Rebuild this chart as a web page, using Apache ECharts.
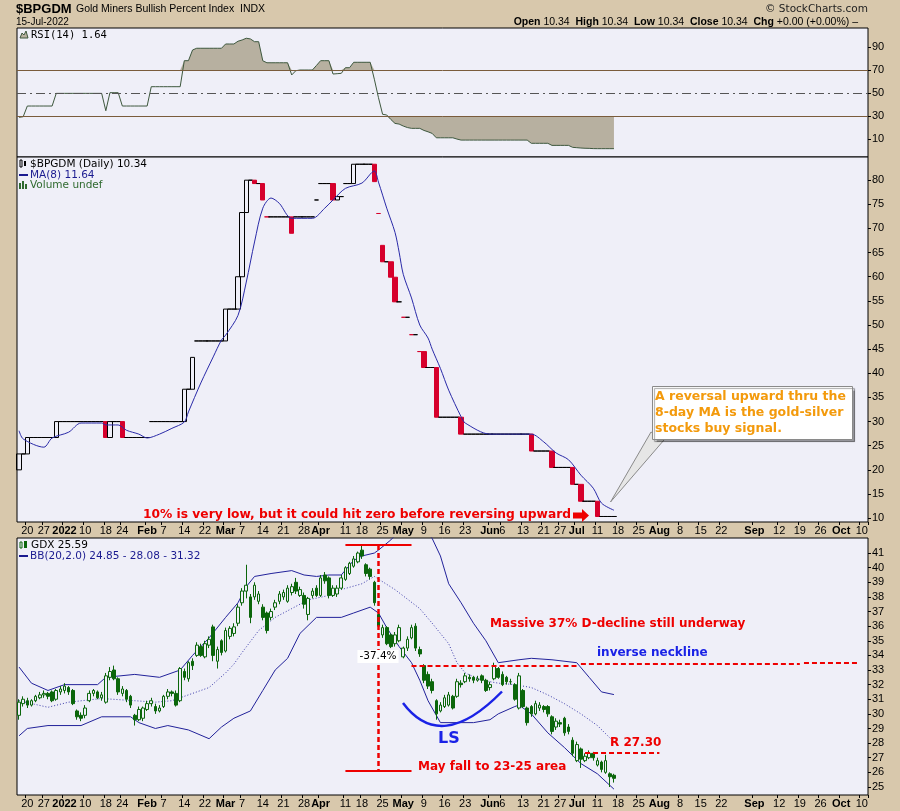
<!DOCTYPE html>
<html><head><meta charset="utf-8">
<script src="https://cdn.jsdelivr.net/npm/echarts@6/dist/echarts.min.js"></script>
<style>html,body{margin:0;padding:0;background:#D8C8AC;}#c{width:900px;height:811px;}</style>
</head><body><div id="c"></div>
<script>
// ---------- calendar (trading days) ----------
const startDate = '2021-12-16', endDate = '2022-10-11';
const holidays = ['2021-12-24','2022-01-17','2022-02-21','2022-04-15','2022-05-30','2022-06-20','2022-07-04','2022-09-05'];
function tradingDays(s, e, hol) {
  const out = [], h = new Set(hol);
  let d = new Date(s + 'T00:00:00Z'); const end = new Date(e + 'T00:00:00Z');
  while (d <= end) { const wd = d.getUTCDay(), k = d.toISOString().slice(0, 10);
    if (wd !== 0 && wd !== 6 && !h.has(k)) out.push(k); d = new Date(d.getTime() + 86400000); }
  return out;
}
const days = tradingDays(startDate, endDate, holidays);

// ---------- x tick labels ----------
const tickDates = ['2021-12-20','2021-12-27','2022-01-03','2022-01-10','2022-01-18','2022-01-24','2022-02-01','2022-02-07','2022-02-14','2022-02-22','2022-03-01','2022-03-07','2022-03-14','2022-03-21','2022-03-28','2022-04-01','2022-04-11','2022-04-18','2022-04-25','2022-05-02','2022-05-09','2022-05-16','2022-05-23','2022-06-01','2022-06-06','2022-06-13','2022-06-21','2022-06-27','2022-07-01','2022-07-11','2022-07-18','2022-07-25','2022-08-01','2022-08-08','2022-08-15','2022-08-22','2022-09-01','2022-09-12','2022-09-19','2022-09-26','2022-10-03','2022-10-10'];
const tickTexts = ['20','27','2022','10','18','24','Feb','7','14','22','Mar','7','14','21','28','Apr','11','18','25','May','9','16','23','Jun','6','13','21','27','Jul','11','18','25','Aug','8','15','22','Sep','12','19','26','Oct','10'];
const boldTicks = ['2022','Feb','Mar','Apr','May','Jun','Jul','Aug','Sep','Oct'];

// ---------- y tick values ----------
const rsiTicks = [10, 30, 50, 70, 90];
const bpTicks = [10, 15, 20, 25, 30, 35, 40, 45, 50, 55, 60, 65, 70, 75, 80];
const gdxTicks = [25, 26, 27, 28, 29, 30, 31, 32, 33, 34, 35, 36, 37, 38, 39, 40, 41];

// ---------- RSI(14) of $BPGDM ----------
const rsi = [
28.9,29.4,38.7,38.7,38.7,38.7,38.7,38.7,38.7,49.7,
49.7,49.7,49.7,49.7,49.7,49.7,49.7,49.7,49.7,49.7,
49.7,34.6,50.3,50.3,50.3,38.7,38.7,38.7,38.7,38.7,
38.7,38.7,55.5,55.5,55.5,55.5,55.5,55.5,55.5,55.5,
78.1,78.1,87.4,88.9,88.9,88.9,88.9,88.9,88.9,88.9,
92.6,92.6,92.6,95.0,96.1,97.6,97.0,94.6,94.6,78.0,
76.3,76.3,76.3,76.3,76.3,76.3,65.7,69.4,70.0,70.0,
70.0,70.0,74.0,78.1,78.1,78.1,66.5,66.8,67.1,72.0,
72.0,76.7,76.7,76.7,76.7,76.7,62.0,46.0,31.5,30.9,
27.0,23.6,23.0,21.3,20.0,19.3,19.3,19.3,17.5,16.3,
14.9,11.1,11.1,11.1,11.1,11.1,10.0,9.1,9.1,9.1,
9.1,9.1,9.1,9.1,9.1,9.1,9.1,9.1,9.1,9.1,
9.1,9.1,9.1,9.1,6.3,6.3,6.3,6.3,6.3,4.5,
4.5,4.5,4.5,4.5,2.8,2.5,2.2,2.0,1.9,1.7,
1.64,1.64,1.64,1.64,1.64];

// ---------- $BPGDM daily open / close ----------
const bpOpen = [
20,23.3,23.3,26.7,26.7,26.7,26.7,26.7,26.7,26.7,
30,30,30,30,30,30,30,30,30,30,
30,30,26.7,30,30,30,26.7,26.7,26.7,26.7,
26.7,26.7,30,30,30,30,30,30,30,30,
30,36.7,36.7,46.7,46.7,46.7,46.7,46.7,46.7,46.7,
46.7,53.3,53.3,53.3,60,73.3,80,80,79.3,79.3,
72.4,72.4,72.4,72.4,72.4,72.4,72.4,72.4,72.4,72.4,
72.4,72.4,75.9,79.3,79.3,79.3,79.3,75.9,76.6,79.3,
79.3,79.3,83.3,83.3,83.3,83.3,83.3,73.1,66.5,63.1,
63.1,59.9,54.8,51.6,51.6,48.0,48.0,44.5,44.5,41.2,
41.2,41.2,30.9,30.9,30.9,30.9,30.9,30.9,27.4,27.4,
27.4,27.4,27.4,27.4,27.4,27.4,27.4,27.4,27.4,27.4,
27.4,27.4,27.4,27.4,27.4,23.9,23.9,23.9,23.9,23.9,
20.5,20.5,20.5,20.5,20.5,17.0,17.0,13.5,13.5,13.5,
13.5,10.34,10.34,10.34,10.34];
const bpClose = [
23.3,23.3,26.7,26.7,26.7,26.7,26.7,26.7,26.7,30,
30,30,30,30,30,30,30,30,30,30,
30,26.7,30,30,30,26.7,26.7,26.7,26.7,26.7,
26.7,26.7,30,30,30,30,30,30,30,30,
36.7,36.7,43.3,46.7,46.7,46.7,46.7,46.7,46.7,46.7,
53.3,53.3,53.3,60,73.3,80,80,79.3,79.3,75.9,
72.4,72.4,72.4,72.4,72.4,72.4,69.0,72.4,72.4,72.4,
72.4,72.4,75.9,79.3,79.3,79.3,75.9,76.6,76.6,79.3,
79.3,83.3,83.3,83.3,83.3,83.3,79.7,73.1,63.1,63.1,
59.9,54.8,54.8,51.6,51.6,48.0,48.0,44.5,41.2,41.2,
41.2,30.9,30.9,30.9,30.9,30.9,30.9,27.4,27.4,27.4,
27.4,27.4,27.4,27.4,27.4,27.4,27.4,27.4,27.4,27.4,
27.4,27.4,27.4,27.4,23.9,23.9,23.9,23.9,23.9,20.5,
20.5,20.5,20.5,20.5,17.0,17.0,13.5,13.5,13.5,13.5,
10.34,10.34,10.34,10.34,10.34];

// MA(8) of $BPGDM, read at [trading-day index, value]
const bpMA8 = [[0,28.1],[1,26.4],[6,24.7],[8,26.6],[12,27.8],[15,29.7],[20,29.7],[21,29.3],[24,29.3],[26,28.2],[29,27.4],[31,26.6],[34,27.4],[37,28.6],[40,29.9],[41,32.0],[44,38.0],[47,43.4],[49,46.9],[50,47.9],[53,52.0],[55,58.9],[57,67.2],[59,74.2],[61,76.3],[63,75.2],[66,72.1],[71,72.1],[74,74.2],[76,75.9],[79,78.3],[83,79.4],[86,81.9],[87,79.6],[89,74.2],[91,69.2],[92,65.1],[93,60.5],[95,55.6],[97,50.0],[99,47.3],[100,45.0],[102,41.0],[104,36.5],[107,31.0],[108,29.7],[114,27.4],[124,27.4],[127,25.8],[130,23.5],[133,22.1],[136,18.9],[139,16.2],[141,13.1],[144,11.64]];

// ---------- GDX daily [open, close, low, high] ----------
const gdx = [
[29.9,30.8,29.6,31.0],[30.7,31.0,30.5,31.2],[30.9,30.6,30.4,31.1],[30.6,30.9,30.5,31.0],[30.9,31.2,30.8,31.3],
[31.1,31.3,31.0,31.5],[31.3,31.4,31.1,31.6],[31.4,31.2,31.0,31.5],[31.5,30.9,30.8,31.6],[31.0,31.6,30.9,31.7],
[31.5,31.7,31.3,31.9],[31.6,31.9,31.4,32.1],[31.8,31.5,31.3,31.9],[31.6,30.7,30.6,31.7],[30.2,29.8,29.6,30.3],
[29.9,29.7,29.5,30.1],[29.9,30.4,29.7,30.6],[30.9,31.4,30.8,31.6],[31.4,31.6,31.2,31.7],[31.5,31.1,31.0,31.6],
[31.1,31.3,30.9,31.5],[30.8,32.6,30.7,32.8],[32.5,32.9,32.3,33.2],[33.0,32.4,32.3,33.3],[32.4,31.5,31.3,32.5],
[31.4,31.7,31.2,31.9],[31.6,31.0,30.8,31.7],[31.2,30.6,30.4,31.3],[29.9,29.6,29.2,30.0],[29.6,30.3,29.5,30.5],
[29.7,30.4,29.5,30.5],[30.3,30.7,30.2,30.9],[30.7,30.9,30.5,31.1],[30.5,30.2,30.0,30.7],[30.2,30.4,30.1,30.6],
[30.5,31.2,30.4,31.3],[31.2,31.5,31.0,31.7],[31.5,31.4,31.2,31.6],[31.4,30.6,30.5,31.6],[30.9,33.1,30.8,33.2],
[32.9,32.5,32.3,33.1],[32.4,33.5,32.2,33.6],[33.6,33.3,33.0,33.8],[34.0,34.7,33.9,34.9],[34.6,34.0,33.9,34.8],
[33.9,34.8,33.8,35.0],[34.7,35.1,34.5,35.3],[35.95,34.0,33.6,36.1],[33.6,34.4,33.1,34.6],[35.0,34.2,34.0,35.1],
[34.3,35.7,34.2,35.9],[35.3,35.85,35.1,36.0],[35.5,35.95,35.3,36.2],[36.2,37.3,36.0,37.5],[37.6,38.4,37.4,38.6],
[38.4,38.8,37.9,40.2],[38.0,36.6,36.2,38.2],[38.0,38.8,37.8,39.0],[37.7,38.2,37.5,38.4],[37.3,36.6,36.4,37.5],
[36.9,35.7,35.5,37.0],[36.6,37.0,36.4,37.2],[37.3,37.6,37.1,37.8],[37.7,38.2,37.5,38.4],[38.0,38.3,37.8,38.5],
[37.7,38.6,37.6,38.8],[38.3,38.7,38.1,38.9],[39.0,38.4,38.2,39.3],[38.1,38.5,38.0,38.7],[38.1,37.5,37.2,38.3],
[36.8,37.9,36.4,38.0],[38.1,38.4,37.9,38.6],[38.6,38.1,38.0,38.8],[38.1,39.3,38.0,39.5],[39.5,39.1,38.9,39.7],
[39.3,38.1,37.9,39.4],[38.1,38.6,38.0,38.8],[38.2,38.6,38.0,38.8],[38.6,39.3,38.5,39.5],[39.2,40.0,39.1,40.1],
[39.6,40.3,39.5,40.4],[40.1,40.6,40.0,40.8],[40.4,41.0,40.3,41.1],[41.2,40.8,40.6,41.5],[40.2,39.6,39.4,40.3],
[39.9,39.4,39.2,40.0],[39.0,37.6,37.4,39.1],[36.8,36.0,35.8,36.9],[35.4,35.9,35.2,36.1],[35.9,34.8,34.7,36.0],
[35.4,34.6,34.5,35.5],[34.8,35.4,34.6,35.6],[35.0,35.9,34.9,36.1],[33.9,34.5,33.8,34.6],[34.5,35.1,34.3,35.3],
[35.2,35.9,35.1,36.1],[36.0,34.5,34.3,36.2],[34.4,34.1,33.9,34.6],[33.3,32.3,32.1,33.4],[32.7,31.9,31.7,32.9],
[32.2,31.6,31.4,32.4],[30.9,30.0,29.6,31.0],[30.2,30.6,30.1,30.8],[30.5,31.1,30.4,31.3],[30.6,31.3,30.5,31.5],
[31.2,30.4,30.3,31.3],[31.2,32.2,31.1,32.4],[32.1,32.0,31.8,32.3],[32.2,32.6,32.1,32.8],[32.5,32.4,32.2,32.7],
[32.5,32.3,32.1,32.6],[32.3,32.4,32.2,32.6],[32.6,32.3,32.1,32.7],[32.3,31.6,31.5,32.4],[31.8,32.0,31.6,32.2],
[32.4,33.3,32.3,33.5],[33.1,32.5,32.4,33.2],[32.7,32.0,31.9,32.9],[32.5,32.2,32.0,32.6],[32.2,32.2,32.0,32.4],
[32.0,31.0,30.9,32.1],[30.4,32.6,30.3,32.8],[31.6,30.5,30.4,31.7],[30.4,29.4,29.2,30.5],[30.5,30.0,29.8,30.6],
[30.0,30.7,29.9,30.9],[30.4,30.6,30.2,30.8],[30.5,30.3,30.1,30.6],[30.5,30.0,29.8,30.6],[29.8,28.8,28.6,29.9],
[29.1,29.5,28.9,29.7],[29.4,29.3,29.1,29.6],[29.7,28.7,28.5,29.8],[29.1,28.8,28.6,29.3],[28.2,27.3,27.1,28.4],
[26.8,27.9,26.7,28.1],[27.6,26.9,26.3,27.7],[26.8,27.1,26.7,27.3],[27.0,27.3,26.9,27.5],[27.3,27.0,26.8,27.4],
[26.5,26.8,26.4,27.0],[26.7,26.2,26.0,26.8],[26.0,26.8,25.9,27.2],[25.9,25.7,25.0,26.0],[25.8,25.59,25.3,25.9]];

// Bollinger Bands (20,2) of GDX, read at [trading-day index, value]
const bbUpper = [[0,33.2],[3,32.1],[7,31.6],[11,32.0],[19,32.0],[21,32.5],[28,32.7],[34,32.5],[39,33.0],[42,34.0],[46,35.2],[50,36.6],[53,37.6],[55,38.7],[57,39.4],[61,39.6],[66,39.8],[69,39.5],[72,39.4],[75,39.5],[78,39.5],[81,40.5],[83,40.8],[86,41.0],[87,41.2],[90,41.9],[92,42.5],[95,43.0],[98,42.6],[100,42.0],[102,40.8],[104,38.9],[107,37.6],[110,36.2],[113,35.0],[116,33.5],[121,33.7],[124,33.8],[129,33.7],[135,33.5],[138,32.5],[141,31.5],[144,31.32]];
const bbMiddle = [[0,30.9],[7,30.45],[12,30.8],[20,31.05],[28,30.9],[33,30.8],[37,30.9],[42,31.4],[46,31.8],[50,32.8],[52,33.4],[54,34.2],[58,35.7],[62,36.6],[66,37.2],[70,37.8],[75,38.1],[78,38.5],[83,38.9],[86,39.4],[91,38.5],[97,37.2],[100,36.2],[104,34.8],[106,33.5],[108,32.8],[112,32.3],[116,32.1],[120,32.0],[124,31.8],[128,31.3],[132,30.7],[136,30.0],[140,29.2],[144,28.08]];
const bbLower = [[0,28.5],[2,29.0],[7,29.2],[15,29.2],[20,29.8],[27,29.8],[29,29.4],[33,29.0],[36,29.2],[41,28.9],[46,28.3],[49,29.1],[52,29.7],[56,30.2],[59,31.6],[62,33.0],[65,33.8],[68,35.5],[72,36.6],[78,36.6],[81,36.9],[85,37.3],[87,36.9],[89,35.9],[92,34.6],[95,33.5],[97,32.3],[99,30.9],[102,29.4],[106,29.4],[110,29.4],[114,29.6],[116,30.0],[120,30.5],[121,30.6],[124,30.0],[128,28.7],[132,27.7],[136,26.6],[140,25.9],[144,24.85]];

// ---------- chart ----------
const BG = '#D8C8AC', PLOT = '#EFEFF8', RED = '#EE0000', BLUE = '#1A22E6', NAVY = '#22229A';
const chart = echarts.init(document.getElementById('c'), null, {renderer: 'canvas'});

const tickMap = {}; tickDates.forEach((d, i) => tickMap[d] = tickTexts[i]);
function xAx(g, showLabels) {
  return {type: 'category', gridIndex: g, data: days, boundaryGap: true,
    axisLine: {show: false},
    axisTick: {show: showLabels, interval: (i, v) => tickMap[v] !== undefined, length: 3, lineStyle: {color: '#000'}},
    axisLabel: {show: showLabels, interval: (i, v) => tickMap[v] !== undefined, margin: 3,
      fontFamily: 'Liberation Sans', fontSize: 11, color: '#000',
      formatter: v => { const t = tickMap[v]; if (t === undefined) return ''; return boldTicks.includes(t) ? '{b|' + t + '}' : t; },
      rich: {b: {fontWeight: 'bold', fontFamily: 'Liberation Sans', fontSize: 11, color: '#000'}}},
    splitLine: {show: false}};
}
function yAx(g, min, max, ticks) {
  return {type: 'value', gridIndex: g, position: 'right', min: min, max: max,
    splitLine: {show: false}, axisLine: {show: false},
    axisTick: {show: true, length: 3, customValues: ticks, lineStyle: {color: '#000'}},
    axisLabel: {customValues: ticks, margin: 4, fontFamily: 'Liberation Sans', fontSize: 11, color: '#000'}};
}
const gridBase = {left: 17, right: 32, show: true, backgroundColor: PLOT, borderColor: '#000', borderWidth: 1};

const txt = (x, y, text, font, fill, extra) => Object.assign({type: 'text', x: x, y: y, z: 100,
  style: Object.assign({text: text, font: font, fill: fill, textVerticalAlign: 'middle', verticalAlign: 'middle'}, (extra || {}))});

const option = {
  backgroundColor: BG,
  animation: false,
  grid: [
    Object.assign({top: 28, height: 129}, gridBase),
    Object.assign({top: 157, height: 365}, gridBase),
    Object.assign({top: 538, height: 257}, gridBase)
  ],
  xAxis: [xAx(0, false), xAx(1, true), xAx(2, true)],
  yAxis: [yAx(0, -5.6, 106.5, rsiTicks), yAx(1, 9.2, 84.8, bpTicks), yAx(2, 24.45, 42.03, gdxTicks)],
  series: [
    {type: 'line', xAxisIndex: 0, yAxisIndex: 0, data: rsi.map(v => Math.max(v, 70)), symbol: 'none',
      lineStyle: {width: 0, opacity: 0}, areaStyle: {origin: 70, color: '#B7B0A0', opacity: 1}, z: 1, silent: true},
    {type: 'line', xAxisIndex: 0, yAxisIndex: 0, data: rsi.map(v => Math.min(v, 30)), symbol: 'none',
      lineStyle: {width: 0, opacity: 0}, areaStyle: {origin: 30, color: '#B7B0A0', opacity: 1}, z: 1, silent: true},
    {type: 'line', xAxisIndex: 0, yAxisIndex: 0, data: rsi, symbol: 'none', z: 3,
      lineStyle: {color: '#3E583E', width: 1},
      markLine: {silent: true, symbol: 'none', label: {show: false},
        data: [{yAxis: 70, lineStyle: {color: '#7A5C3C', width: 1, type: 'solid'}},
               {yAxis: 30, lineStyle: {color: '#7A5C3C', width: 1, type: 'solid'}},
               {yAxis: 50, lineStyle: {color: '#555', width: 1, type: [9, 4, 2, 4]}}]}},
    {type: 'candlestick', xAxisIndex: 1, yAxisIndex: 1, barWidth: 4.8,
      data: bpOpen.map((o, i) => [o, bpClose[i], Math.min(o, bpClose[i]), Math.max(o, bpClose[i])]),
      itemStyle: {color: 'rgba(0,0,0,0)', color0: '#D6002C', borderColor: '#000', borderColor0: '#D6002C', borderWidth: 1}},
    {type: 'line', xAxisIndex: 1, yAxisIndex: 1, data: bpMA8, symbol: 'none', smooth: 0.3, z: 4,
      lineStyle: {color: '#2A2AA8', width: 1}},
    {type: 'line', xAxisIndex: 2, yAxisIndex: 2, data: bbUpper, symbol: 'none', lineStyle: {color: NAVY, width: 1}},
    {type: 'line', xAxisIndex: 2, yAxisIndex: 2, data: bbMiddle, symbol: 'none', lineStyle: {color: '#3A3AAA', width: 1, type: [1, 2]}},
    {type: 'line', xAxisIndex: 2, yAxisIndex: 2, data: bbLower, symbol: 'none', lineStyle: {color: NAVY, width: 1}},
    {type: 'candlestick', xAxisIndex: 2, yAxisIndex: 2, barWidth: '75%', data: gdx, z: 5,
      itemStyle: {color: PLOT, color0: '#0B660B', borderColor: '#0B660B', borderColor0: '#0B660B', borderWidth: 1},
      markLine: {silent: true, symbol: 'none', label: {show: false}, z: 6,
        data: [
          [{coord: [days[79], 41.55], lineStyle: {color: RED, width: 2, type: 'solid'}}, {coord: [days[95], 41.55]}],
          [{coord: [days[79], 26.14], lineStyle: {color: RED, width: 2, type: 'solid'}}, {coord: [days[95], 26.14]}],
          [{coord: [days[87], 41.55], lineStyle: {color: RED, width: 2.5, type: [5, 3]}}, {coord: [days[87], 26.14]}],
          [{coord: [days[95], 33.3], lineStyle: {color: RED, width: 2, type: [5, 3]}}, {coord: [days[135], 33.3]}],
          [{coord: [days[136], 33.4], lineStyle: {color: RED, width: 2, type: [5, 3]}}, {coord: [days[189], 33.4]}],
          [{coord: [days[190], 33.47], lineStyle: {color: RED, width: 2, type: [5, 3]}}, {coord: [days[203], 33.47]}],
          [{coord: [days[137], 27.35], lineStyle: {color: RED, width: 2, type: [5, 3]}}, {coord: [days[155], 27.35]}]
        ]}}
  ],
  graphic: [
    // header
    txt(16, 9.5, '$BPGDM', 'bold 13px "Liberation Sans"', '#000'),
    txt(76, 9.5, 'Gold Miners Bullish Percent Index  INDX', '10.5px "Liberation Sans"', '#000'),
    txt(16, 22, '15-Jul-2022', '10px "Liberation Sans"', '#000'),
    txt(868, 9, '\u00A9 StockCharts.com', '10.5px "DejaVu Sans"', '#222', {textAlign: 'right', align: 'right'}),
    {type: 'text', x: 858, y: 22, z: 100, style: {text: '{b|Open} 10.34  {b|High} 10.34  {b|Low} 10.34  {b|Close} 10.34  {b|Chg} +0.00 (+0.00%) \u2013',
      font: '10.5px "Liberation Sans"', fill: '#000', textAlign: 'right', align: 'right', textVerticalAlign: 'middle', verticalAlign: 'middle',
      rich: {b: {fontWeight: 'bold', fontFamily: 'Liberation Sans', fontSize: 10.5}}}},
    // RSI legend
    {type: 'polygon', z: 100, shape: {points: [[20, 38], [22, 33], [24, 35], [26, 31], [28, 38]]}, style: {fill: '#B7B0A0', stroke: '#3E583E', lineWidth: 1}},
    txt(31, 35, 'RSI(14) 1.64', '10.5px "DejaVu Sans Mono"', '#000'),
    // main legend
    {type: 'rect', z: 100, shape: {x: 20, y: 160, width: 2, height: 7}, style: {fill: 'none', stroke: '#000', lineWidth: 1}},
    {type: 'rect', z: 100, shape: {x: 24, y: 161, width: 2, height: 5}, style: {fill: '#000'}},
    txt(30, 164, '$BPGDM (Daily) 10.34', '10.5px "DejaVu Sans"', '#000'),
    {type: 'line', z: 100, shape: {x1: 19, y1: 175, x2: 28, y2: 175}, style: {stroke: '#1A1A90', lineWidth: 2}},
    txt(30, 175, 'MA(8) 11.64', '10.5px "DejaVu Sans"', '#1A1A90'),
    {type: 'rect', z: 100, shape: {x: 19, y: 183, width: 2, height: 6}, style: {fill: '#2F6A2F'}},
    {type: 'rect', z: 100, shape: {x: 22, y: 181, width: 2, height: 8}, style: {fill: '#2F6A2F'}},
    {type: 'rect', z: 100, shape: {x: 25, y: 184, width: 2, height: 5}, style: {fill: '#2F6A2F'}},
    txt(30, 185, 'Volume undef', '10.5px "DejaVu Sans"', '#2F6A2F'),
    // GDX legend
    {type: 'rect', z: 100, shape: {x: 20, y: 542, width: 2, height: 6}, style: {fill: 'none', stroke: '#0B660B', lineWidth: 1}},
    {type: 'rect', z: 100, shape: {x: 24, y: 541, width: 3, height: 7}, style: {fill: '#0B660B'}},
    txt(31, 545, 'GDX 25.59', '10.5px "DejaVu Sans"', '#000'),
    {type: 'line', z: 100, shape: {x1: 19, y1: 556, x2: 28, y2: 556}, style: {stroke: '#1A1A90', lineWidth: 2}},
    txt(30, 556, 'BB(20,2.0) 24.85 - 28.08 - 31.32', '10.5px "DejaVu Sans"', '#1A1A90'),
    // main panel annotations
    txt(143, 515, '10% is very low, but it could hit zero before reversing upward', 'bold 12.25px "DejaVu Sans"', RED),
    {type: 'polygon', z: 100, shape: {points: [[573, 512.5], [582, 512.5], [582, 509], [589, 515.5], [582, 522], [582, 518.5], [573, 518.5]]}, style: {fill: RED}},
    {type: 'polygon', z: 99, shape: {points: [[651, 432], [610.5, 502], [664, 440]]}, style: {fill: '#E6E6E6', stroke: '#8A8A8A', lineWidth: 1}},
    {type: 'rect', z: 100, shape: {x: 652.5, y: 386.5, width: 200, height: 53}, style: {fill: '#FFFFFF', stroke: '#8A8A8A', lineWidth: 1, shadowColor: 'rgba(0,0,0,0.35)', shadowOffsetX: 2, shadowOffsetY: 2, shadowBlur: 1}},
    txt(655, 397, 'A reversal upward thru the', 'bold 12.5px "DejaVu Sans"', '#F39A0C'),
    txt(655, 413, '8-day MA is the gold-silver', 'bold 12.5px "DejaVu Sans"', '#F39A0C'),
    txt(655, 429, 'stocks buy signal.', 'bold 12.5px "DejaVu Sans"', '#F39A0C'),
    // GDX panel annotations
    txt(378, 656.5, '-37.4%', '10.5px "DejaVu Sans"', '#000', {textAlign: 'center', align: 'center', backgroundColor: '#FFFFFF', padding: [1, 2]}),
    txt(490, 624, 'Massive 37% D-decline still underway', 'bold 12px "DejaVu Sans"', RED),
    txt(597, 653, 'inverse neckline', 'bold 12px "DejaVu Sans"', BLUE),
    {type: 'bezierCurve', z: 100, shape: {x1: 403, y1: 703, x2: 502, y2: 691.5, cpx1: 441, cpy1: 754}, style: {stroke: BLUE, lineWidth: 2.5, fill: 'none'}},
    txt(438, 739, 'LS', 'bold 16px "DejaVu Sans"', BLUE),
    txt(418, 767, 'May fall to 23-25 area', 'bold 12px "DejaVu Sans"', RED),
    txt(610, 743, 'R 27.30', 'bold 12px "DejaVu Sans"', RED)
  ]
};
chart.setOption(option);
</script></body></html>
